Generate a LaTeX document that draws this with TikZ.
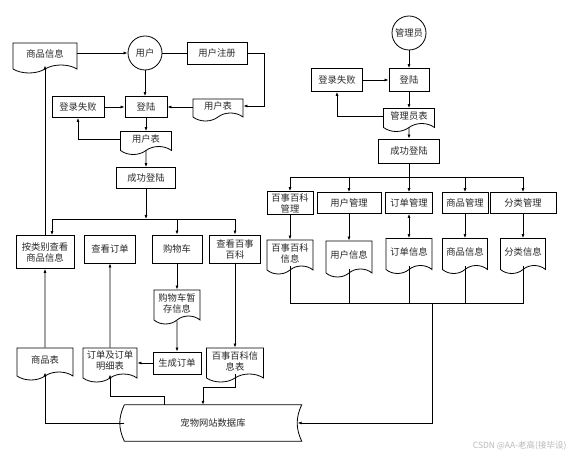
\documentclass[tikz,border=0pt]{standalone}
\usepackage{fontspec}
\usepackage{tikz}
\usetikzlibrary{shapes.geometric, shapes.symbols, arrows.meta, positioning, calc}
\setmainfont{Noto Sans CJK SC}
\definecolor{inkgray}{RGB}{40,40,40}
\definecolor{markgray}{RGB}{185,185,185}

\begin{document}
\begin{tikzpicture}[
  x=1pt, y=-1pt,
  font=\fontsize{9.3}{11}\selectfont,
  box/.style={draw, line width=0.8pt, inner sep=1pt, align=center, text=inkgray},
  doc/.style={draw, shape=tape, tape bend top=none, tape bend height=8pt,
              line width=0.8pt, inner sep=1pt, align=center, text=inkgray},
  actor/.style={draw, circle, line width=0.8pt, minimum size=34pt, inner sep=0pt, text=inkgray},
  arrow/.style={-{Latex[length=4pt,width=3pt]}, line width=0.7pt},
  dblarrow/.style={{Latex[length=4pt,width=3pt]}-{Latex[length=4pt,width=3pt]}, line width=0.7pt},
  line/.style={line width=0.7pt}
]
  \useasboundingbox (0,0) rectangle (571,457);

  % user side
  \node[doc, minimum width=64pt, minimum height=30pt] (info) at (45,54) {商品信息};
  \node[actor] (user) at (145,53) {用户};
  \node[box, minimum width=60pt, minimum height=22pt] (reg) at (217,53) {用户注册};
  \node[box, minimum width=42pt, minimum height=21pt] (login1) at (146,107) {登陆};
  \node[box, minimum width=52pt, minimum height=21pt] (fail1) at (78,107) {登录失败};
  \node[doc, minimum width=50pt, minimum height=22pt] (utab1) at (218,106) {用户表};
  \node[doc, minimum width=51pt, minimum height=23pt] (utab2) at (146,139) {用户表};
  \node[box, minimum width=59pt, minimum height=21pt] (ok1) at (146,178) {成功登陆};
  \coordinate (lbus) at (146,219);

  \node[box, minimum width=58pt, minimum height=33pt] (browse) at (45,252) {按类别查看\\商品信息};
  \node[box, minimum width=51pt, minimum height=28pt] (order) at (110,249) {查看订单};
  \node[box, minimum width=50pt, minimum height=28pt] (cart) at (177,249) {购物车};
  \node[box, minimum width=51pt, minimum height=28pt] (wiki) at (235,249) {查看百事\\百科};
  \node[doc, minimum width=46pt, minimum height=34pt] (ctmp) at (177,303) {购物车暂\\存信息};
  \node[doc, minimum width=56pt, minimum height=32pt] (gtab) at (45,360) {商品表};
  \node[doc, minimum width=54pt, minimum height=34pt] (otab) at (110,361) {订单及订单\\明细表};
  \node[box, minimum width=48pt, minimum height=22pt] (gen) at (177,363) {生成订单};
  \node[doc, minimum width=57pt, minimum height=34pt] (wtab) at (235,361) {百事百科信\\息表};

  \node[minimum width=177pt, minimum height=36pt, text=inkgray] (db) at (213,423) {宠物网站数据库};
  \draw[line width=0.8pt] (db.north west) -- (db.north east) to[bend right=25] (db.south east)
    -- (db.south west) to[bend left=25] (db.north west);

  % admin side
  \node[actor] (admin) at (409,33) {管理员};
  \node[box, minimum width=40pt, minimum height=23pt] (login2) at (409,80) {登陆};
  \node[box, minimum width=51pt, minimum height=23pt] (fail2) at (337,80) {登录失败};
  \node[doc, minimum width=51pt, minimum height=23pt] (atab) at (409,116) {管理员表};
  \node[box, minimum width=61pt, minimum height=24pt] (ok2) at (409,151) {成功登陆};
  \coordinate (rbus) at (409,177);

  \node[box, minimum width=46pt, minimum height=23pt] (mwiki) at (290,203) {百事百科\\管理};
  \node[box, minimum width=64pt, minimum height=21pt] (muser) at (349,203) {用户管理};
  \node[box, minimum width=47pt, minimum height=21pt] (morder) at (409,203) {订单管理};
  \node[box, minimum width=46pt, minimum height=21pt] (mgoods) at (465,203) {商品管理};
  \node[box, minimum width=66pt, minimum height=21pt] (mcat) at (523,203) {分类管理};

  \node[doc, minimum width=46pt, minimum height=34pt] (iwiki) at (290,253) {百事百科\\信息};
  \node[doc, minimum width=46pt, minimum height=36pt] (iuser) at (349,255) {用户信息};
  \node[doc, minimum width=46pt, minimum height=35pt] (iorder) at (409,252) {订单信息};
  \node[doc, minimum width=45pt, minimum height=35pt] (igoods) at (465,252) {商品信息};
  \node[doc, minimum width=45pt, minimum height=35pt] (icat) at (523,252) {分类信息};
  \coordinate (rbot) at (432,303);

  \node[anchor=east, font=\fontsize{8.5}{10}\selectfont, text=markgray] (mark) at (570,446)
    {CSDN @AA-老高(接毕设)};

  % user flow
  \draw[arrow] (info.east |- user) -- (user);
  \draw[line] (user) -- (reg);
  \draw[arrow] (reg.east) -- ++(17,0) |- (utab1.east);
  \draw[arrow] (user) -- (user |- login1.north);
  \draw[arrow] (fail1) -- (login1);
  \draw[arrow] (utab1.west |- login1) -- (login1);
  \draw[arrow] (login1) -- (utab2);
  \draw[arrow] (utab2.west) -| (fail1);
  \draw[arrow] (utab2) -- (ok1);
  \draw[arrow] (ok1) -- (lbus);
  \draw[arrow] (lbus) -| ([xshift=7pt]browse.north);
  \draw[arrow] (lbus) -| (cart);
  \draw[arrow] (lbus) -| (wiki);
  \draw[arrow] (browse.north) -- (info.south);
  \draw[arrow] (gtab) -- (browse);
  \draw[arrow] (otab) -- (order);
  \draw[arrow] (cart) -- (ctmp);
  \draw[arrow] (ctmp) -- (gen);
  \draw[arrow] (gen.west) -- (gen.west -| otab.east);
  \draw[arrow] (wiki) -- (wtab);
  \draw[arrow] (db.west) -| (gtab.south);
  \draw[arrow] ([xshift=-49pt]db.north) -- ++(0,-8) -| (otab.south);
  \draw[arrow] (wtab.south) -- ++(0,13) -| ([xshift=-10pt]db.north);

  % admin flow
  \draw[arrow] (admin) -- (login2);
  \draw[arrow] (fail2) -- (login2);
  \draw[arrow] (login2) -- (atab);
  \draw[arrow] (atab.west) -| (fail2);
  \draw[arrow] (atab) -- (ok2);
  \draw[arrow] (ok2) -- (morder);
  \draw[arrow] (rbus) -| (mwiki);
  \draw[arrow] (rbus) -| (muser);
  \draw[arrow] (rbus) -| (mgoods);
  \draw[arrow] (rbus) -| (mcat);
  \draw[arrow] (mwiki) -- (iwiki);
  \draw[arrow] (muser) -- (iuser);
  \draw[dblarrow] (morder) -- (iorder);
  \draw[arrow] (mgoods) -- (igoods);
  \draw[arrow] (mcat) -- (icat);
  \draw[line] (iwiki.south) |- (rbot);
  \draw[line] (icat.south) |- (rbot);
  \draw[line] (iuser.south) -- (iuser.south |- rbot);
  \draw[line] (iorder.south) -- (iorder.south |- rbot);
  \draw[line] (igoods.south) -- (igoods.south |- rbot);
  \draw[arrow] (rbot) |- ([xshift=-4pt]db.east);
\end{tikzpicture}
\end{document}
